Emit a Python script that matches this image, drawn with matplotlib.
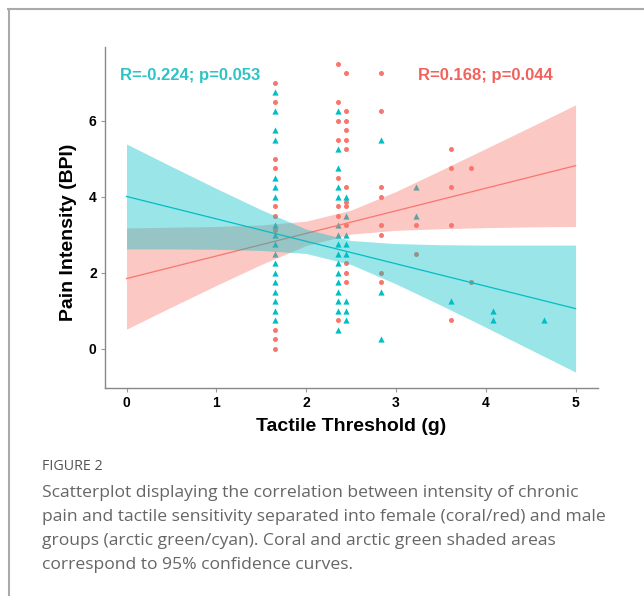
import numpy as np
import matplotlib
matplotlib.use("Agg")
import matplotlib.pyplot as plt
from matplotlib.lines import Line2D

# tactile threshold (g) / pain intensity (BPI)
female_x = [1.65] * 10 + [2.36] * 8 + [2.44] * 13 + [2.83] * 8 + [3.22] * 2 + [3.61] * 5 + [3.84] * 2
female_y = [7.0, 6.5, 5.0, 4.75, 3.75, 3.5, 3.125, 0.5, 0.25, 0.0,
            7.5, 6.5, 6.0, 5.5, 4.5, 3.75, 3.5, 0.75,
            7.25, 6.25, 6.0, 5.75, 5.5, 5.25, 4.25, 3.875, 3.75, 3.25, 2.25, 2.0, 1.75,
            7.25, 6.25, 4.25, 4.0, 3.25, 3.0, 2.0, 1.75,
            3.25, 2.5,
            5.25, 4.75, 4.25, 3.25, 0.75,
            4.75, 1.75]

male_x = [1.65] * 18 + [2.36] * 16 + [2.44] * 8 + [2.83] * 3 + [3.22] * 2 + [3.61] + [4.08] * 2 + [4.65]
male_y = [6.75, 6.25, 5.75, 5.5, 4.5, 4.25, 4.0, 3.25, 3.0, 2.75, 2.5, 2.25, 2.0, 1.75, 1.5, 1.25, 1.0, 0.75,
          6.25, 5.25, 4.75, 4.25, 4.0, 3.25, 3.0, 2.75, 2.5, 2.25, 2.0, 1.75, 1.5, 1.25, 1.0, 0.5,
          4.0, 3.5, 3.0, 2.75, 2.5, 1.25, 1.0, 0.75,
          5.5, 1.5, 0.25,
          4.25, 3.5,
          1.25,
          1.0, 0.75,
          0.75]

# fitted lines (value at x=0 and x=5) and 95% bands
fit_x = [0, 5]
female_fit = [1.85, 4.82]
male_fit = [4.01, 1.06]

band_x = [0, 0.5, 1.0, 1.5, 2.0, 2.5, 3.0, 3.5, 4.0, 4.5, 5.0]
female_lo = [0.52, 1.10, 1.67, 2.22, 2.72, 3.02, 3.12, 3.16, 3.19, 3.21, 3.22]
female_hi = [3.18, 3.20, 3.22, 3.26, 3.36, 3.65, 4.14, 4.70, 5.27, 5.84, 6.42]
male_lo = [2.63, 2.63, 2.62, 2.59, 2.51, 2.22, 1.71, 1.15, 0.57, -0.02, -0.61]
male_hi = [5.39, 4.80, 4.22, 3.66, 3.15, 2.85, 2.77, 2.74, 2.73, 2.73, 2.73]

female_label = "R=0.168; p=0.044"
male_label = "R=-0.224; p=0.053"
x_ticks = [0, 1, 2, 3, 4, 5]
y_ticks = [0, 2, 4, 6]

CORAL = "#F8766D"
CYAN = "#00BFC4"

caption_title = "FIGURE 2"
caption_lines = [
    "Scatterplot displaying the correlation between intensity of chronic",
    "pain and tactile sensitivity separated into female (coral/red) and male",
    "groups (arctic green/cyan). Coral and arctic green shaded areas",
    "correspond to 95% confidence curves.",
]

plt.rcParams["font.family"] = ["Liberation Sans", "DejaVu Sans"]

fig = plt.figure(figsize=(6.44, 5.96), dpi=100)
ax = fig.add_axes([0.163, 0.3495, 0.7656, 0.5716])

ax.scatter(female_x, female_y, s=13, marker="o", color=CORAL, linewidths=0, zorder=2)
ax.scatter(male_x, male_y, s=20, marker="^", color=CYAN, linewidths=0, zorder=2)

# coral band/line first, cyan on top (as in the original)
ax.fill_between(band_x, female_lo, female_hi, color=CORAL, alpha=0.4, linewidth=0, zorder=3)
ax.plot(fit_x, female_fit, color=CORAL, lw=0.9, zorder=4)
ax.fill_between(band_x, male_lo, male_hi, color=CYAN, alpha=0.4, linewidth=0, zorder=5)
ax.plot(fit_x, male_fit, color=CYAN, lw=0.9, zorder=6)

ax.text(-0.075, 7.2, male_label, color="#2EC4C6", fontsize=12, fontweight="bold",
        va="center", ha="left", zorder=10)
ax.text(3.24, 7.2, female_label, color="#F2625C", fontsize=12, fontweight="bold",
        va="center", ha="left", zorder=10)

ax.set_xlim(-0.24, 5.25)
ax.set_ylim(-1.02, 7.94)
ax.set_xticks(x_ticks)
ax.set_yticks(y_ticks)
ax.tick_params(axis="both", length=3, width=0.8, color="#999999", labelsize=10, pad=3)
for lab in ax.get_xticklabels() + ax.get_yticklabels():
    lab.set_fontweight("bold")
for side in ["top", "right"]:
    ax.spines[side].set_visible(False)
for side in ["left", "bottom"]:
    ax.spines[side].set_color("#888888")
    ax.spines[side].set_linewidth(1.0)

ax.set_xlabel("Tactile Threshold (g)", fontsize=14, fontweight="bold", labelpad=6)
ax.set_ylabel("Pain Intensity (BPI)", fontsize=14, fontweight="bold", va="center")
ax.yaxis.set_label_coords(-0.073, 0.457)

# page frame lines
fig.add_artist(Line2D([8 / 644, 1], [1 - 9 / 596] * 2, transform=fig.transFigure,
                      color="#aaaaaa", lw=1.5))
fig.add_artist(Line2D([9 / 644] * 2, [0, 1 - 9 / 596], transform=fig.transFigure,
                      color="#aaaaaa", lw=1.5))

fig.text(42 / 644, 1 - 467 / 596, caption_title, fontsize=10.3, color="#555555",
         family=["Open Sans", "DejaVu Sans"], va="center", ha="left")
for i, line in enumerate(caption_lines):
    fig.text(42 / 644, 1 - (493 + 24 * i) / 596, line, fontsize=12.6, color="#666666",
             family=["Open Sans", "DejaVu Sans"], va="center", ha="left")

fig.savefig("out.png", dpi=100)
